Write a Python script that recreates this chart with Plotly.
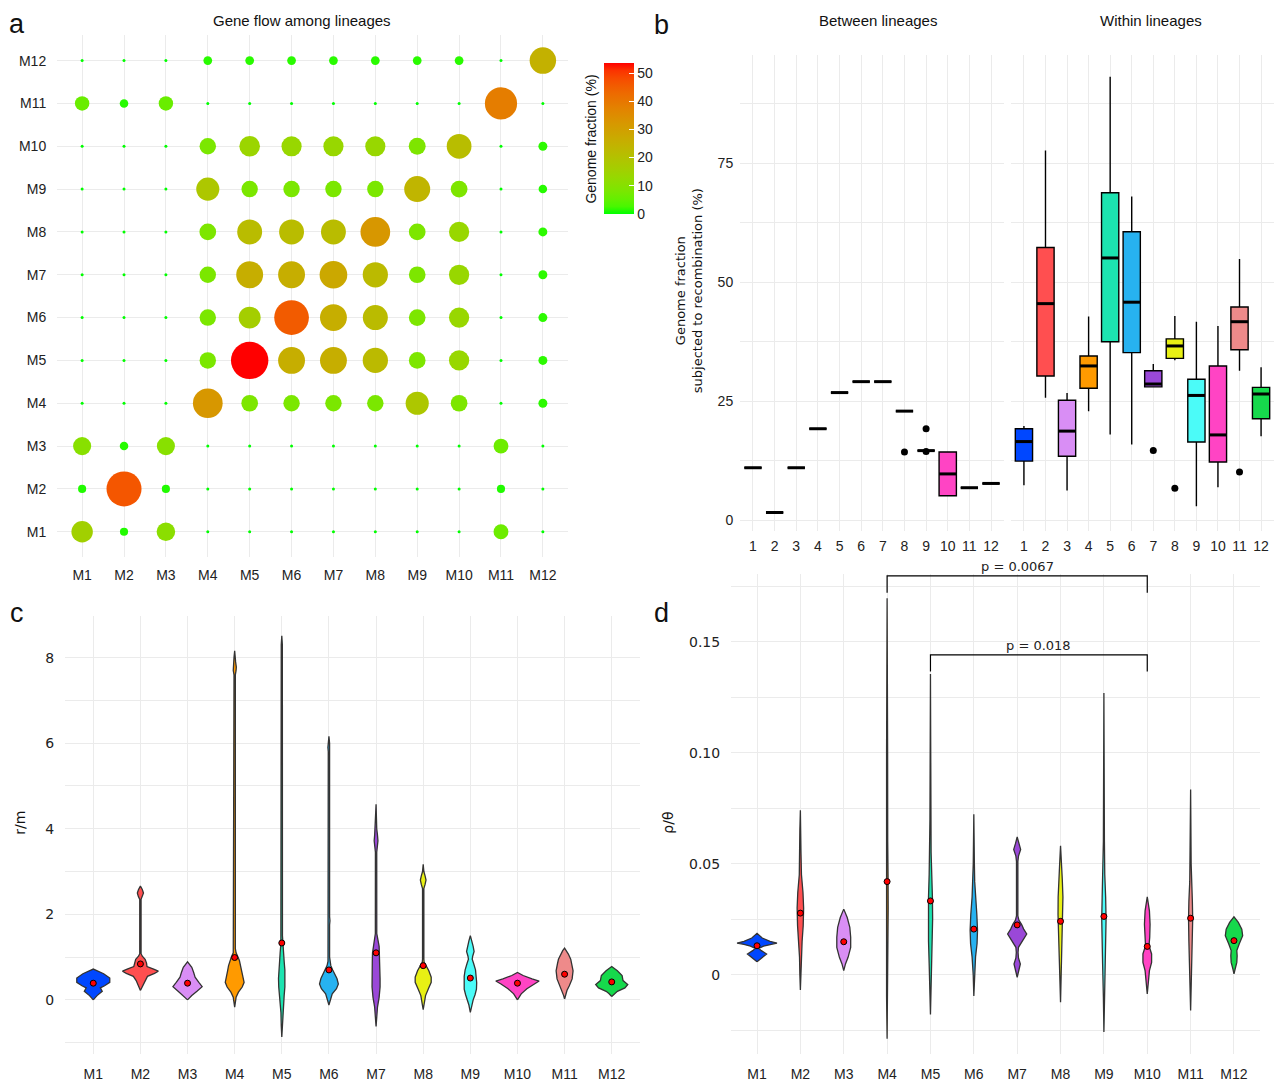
import numpy as np
import plotly.graph_objects as go

# ---------------- DATA ----------------
LINEAGES = ["M1", "M2", "M3", "M4", "M5", "M6", "M7", "M8", "M9", "M10", "M11", "M12"]
BOX_LABELS = [str(i) for i in range(1, 13)]

# panel a: gene flow matrix (rows = y lineage M1..M12, cols = x lineage M1..M12), genome fraction %
FLOW_M1 = [15.4, 1.2, 11.0, 0, 0, 0, 0, 0, 0, 0, 6.4, 0]
FLOW_M2 = [1.2, 46.5, 1.2, 0, 0, 0, 0, 0, 0, 0, 1.2, 0]
FLOW_M3 = [10.4, 1.4, 10.4, 0, 0, 0, 0, 0, 0, 0, 6.4, 0]
FLOW_M4 = [0, 0, 0, 32.4, 8.5, 8.2, 8.2, 8.2, 18.4, 8.5, 0, 1.6]
FLOW_M5 = [0, 0, 0, 8.2, 53.7, 25.9, 25.9, 22.5, 8.5, 13.5, 0, 1.6]
FLOW_M6 = [0, 0, 0, 8.2, 16.2, 45.6, 25.9, 22.0, 8.5, 13.5, 0, 1.6]
FLOW_M7 = [0, 0, 0, 8.2, 25.9, 25.9, 27.7, 22.5, 8.5, 13.5, 0, 1.6]
FLOW_M8 = [0, 0, 0, 8.5, 21.8, 21.8, 21.8, 32.4, 8.5, 13.5, 0, 1.6]
FLOW_M9 = [0, 0, 0, 18.4, 8.2, 8.2, 8.2, 8.2, 24.0, 8.7, 0, 1.4]
FLOW_M10 = [0, 0, 0, 8.2, 14.1, 13.4, 13.4, 13.4, 8.8, 21.5, 0, 1.6]
FLOW_M11 = [5.9, 1.4, 5.9, 0, 0, 0, 0, 0, 0, 0, 38.7, 0]
FLOW_M12 = [0, 0, 0, 1.5, 1.5, 1.5, 1.5, 1.5, 1.5, 1.5, 0, 25.0]
FLOW_ROWS = [FLOW_M1, FLOW_M2, FLOW_M3, FLOW_M4, FLOW_M5, FLOW_M6,
             FLOW_M7, FLOW_M8, FLOW_M9, FLOW_M10, FLOW_M11, FLOW_M12]
COLORBAR_TICKS = [0, 10, 20, 30, 40, 50]

# panel b: box statistics (% genome subjected to recombination)
BETWEEN_Q1 = [11.0, 1.6, 11.0, 19.2, 26.8, 29.1, 29.1, 22.9, 14.6, 5.1, 6.8, 7.7]
BETWEEN_MED = [11.0, 1.6, 11.0, 19.2, 26.8, 29.1, 29.1, 22.9, 14.6, 9.7, 6.8, 7.7]
BETWEEN_Q3 = [11.0, 1.6, 11.0, 19.2, 26.8, 29.1, 29.1, 22.9, 14.6, 14.3, 6.8, 7.7]
BETWEEN_LO = [11.0, 1.6, 11.0, 19.2, 26.8, 29.1, 29.1, 22.9, 14.6, 5.1, 6.8, 7.7]
BETWEEN_HI = [11.0, 1.6, 11.0, 19.2, 26.8, 29.1, 29.1, 22.9, 14.6, 14.3, 6.8, 7.7]
BETWEEN_OUT_X = [8, 9, 9]
BETWEEN_OUT_Y = [14.3, 19.2, 14.4]

WITHIN_Q1 = [12.4, 30.3, 13.4, 27.7, 37.5, 35.2, 28.0, 34.0, 16.4, 12.2, 35.8, 21.3]
WITHIN_MED = [16.5, 45.5, 18.7, 32.4, 55.1, 45.8, 28.6, 36.6, 26.2, 17.9, 41.7, 26.5]
WITHIN_Q3 = [19.2, 57.3, 25.2, 34.5, 68.8, 60.6, 31.4, 38.1, 29.6, 32.4, 44.8, 27.9]
WITHIN_LO = [7.3, 25.7, 6.2, 22.9, 18.0, 15.9, 28.0, 33.6, 2.9, 6.9, 31.4, 17.6]
WITHIN_HI = [19.8, 77.7, 26.7, 42.8, 93.2, 68.0, 32.8, 42.9, 41.7, 40.8, 54.9, 32.1]
WITHIN_OUT_X = [7, 8, 11]
WITHIN_OUT_Y = [14.6, 6.7, 10.1]

# panel c: r/m violin profiles (value, relative half width)
C_PROF_Y = [
    [0.0, 0.10, 0.20, 0.28, 0.33, 0.41, 0.51, 0.61, 0.72],
    [0.22, 0.33, 0.45, 0.55, 0.62, 0.67, 0.72, 0.78, 0.86, 0.95, 1.02, 1.08, 2.35, 2.42, 2.5, 2.58, 2.66],
    [0.0, 0.05, 0.10, 0.20, 0.31, 0.41, 0.53, 0.64, 0.76, 0.89],
    [-0.17, -0.05, 0.06, 0.18, 0.30, 0.41, 0.55, 0.68, 0.80, 0.92, 1.00, 1.10, 1.2, 7.6, 7.7, 7.78, 7.9, 8.0, 8.16],
    [-0.87, -0.6, -0.3, -0.1, 0.1, 0.3, 0.5, 0.7, 0.9, 1.1, 1.3, 1.5, 8.3, 8.51],
    [-0.12, 0.0, 0.14, 0.26, 0.37, 0.5, 0.6, 0.7, 0.8, 0.9, 1.0, 1.75, 1.85, 1.95, 5.8, 5.9, 6.0, 6.16],
    [-0.62, -0.4, -0.17, 0.06, 0.3, 0.5, 0.7, 0.9, 1.1, 1.25, 1.4, 1.55, 3.45, 3.6, 3.72, 3.85, 4.0, 4.57],
    [-0.23, -0.1, 0.1, 0.26, 0.41, 0.53, 0.68, 0.8, 0.88, 0.95, 2.6, 2.7, 2.8, 2.9, 3.0, 3.17],
    [-0.29, -0.12, 0.0, 0.12, 0.25, 0.4, 0.55, 0.7, 0.85, 0.95, 1.02, 1.13, 1.25, 1.38, 1.5],
    [0.0, 0.07, 0.14, 0.26, 0.37, 0.44, 0.49, 0.57, 0.64],
    [0.02, 0.1, 0.22, 0.33, 0.49, 0.68, 0.85, 0.95, 1.07, 1.15, 1.21],
    [0.08, 0.15, 0.2, 0.28, 0.36, 0.45, 0.57, 0.68, 0.78],
]
C_PROF_W = [
    [0, 0.08, 0.19, 0.15, 0.24, 0.35, 0.35, 0.22, 0],
    [0, 0.05, 0.09, 0.15, 0.30, 0.38, 0.28, 0.14, 0.13, 0.10, 0.04, 0.014, 0.014, 0.045, 0.065, 0.04, 0],
    [0, 0.04, 0.09, 0.20, 0.31, 0.24, 0.16, 0.13, 0.09, 0],
    [0, 0.015, 0.03, 0.08, 0.16, 0.20, 0.17, 0.15, 0.13, 0.10, 0.07, 0.03, 0.014, 0.014, 0.03, 0.035, 0.02, 0.014, 0],
    [0, 0.012, 0.018, 0.03, 0.05, 0.065, 0.07, 0.065, 0.05, 0.035, 0.02, 0.014, 0.012, 0],
    [0, 0.025, 0.07, 0.16, 0.20, 0.17, 0.12, 0.08, 0.04, 0.02, 0.014, 0.014, 0.022, 0.014, 0.014, 0.022, 0.014, 0],
    [0, 0.015, 0.03, 0.065, 0.085, 0.085, 0.08, 0.08, 0.075, 0.065, 0.04, 0.015, 0.014, 0.035, 0.04, 0.03, 0.014, 0],
    [0, 0.02, 0.05, 0.11, 0.17, 0.17, 0.12, 0.06, 0.02, 0.014, 0.014, 0.04, 0.06, 0.04, 0.014, 0],
    [0, 0.03, 0.06, 0.10, 0.13, 0.135, 0.13, 0.11, 0.07, 0.04, 0.05, 0.08, 0.06, 0.03, 0],
    [0, 0.04, 0.08, 0.2, 0.35, 0.46, 0.31, 0.12, 0],
    [0, 0.02, 0.05, 0.10, 0.16, 0.18, 0.15, 0.13, 0.08, 0.04, 0],
    [0, 0.06, 0.12, 0.28, 0.34, 0.24, 0.22, 0.12, 0],
]
C_MEANS = [0.39, 0.84, 0.39, 0.99, 1.33, 0.70, 1.10, 0.80, 0.51, 0.39, 0.60, 0.42]
C_TICKS = [0, 2, 4, 6, 8]
C_MINOR = [-1, 1, 3, 5, 7]

# panel d: rho/theta violin profiles
D_PROF_Y = [
    [0.0058, 0.0075, 0.0093, 0.0108, 0.0118, 0.0128, 0.0136, 0.0142, 0.0150, 0.0165, 0.0186],
    [-0.0069, 0.0, 0.008, 0.015, 0.022, 0.03, 0.037, 0.045, 0.055, 0.065, 0.074],
    [0.0018, 0.0048, 0.0078, 0.0123, 0.0168, 0.0213, 0.0257, 0.0295],
    [-0.0289, -0.01, 0.01, 0.03, 0.045, 0.06, 0.1, 0.1695],
    [-0.018, -0.005, 0.005, 0.015, 0.025, 0.035, 0.045, 0.055, 0.07, 0.1354],
    [-0.0096, 0.0, 0.008, 0.014, 0.02, 0.027, 0.035, 0.042, 0.05, 0.0722],
    [-0.0012, 0.002, 0.0048, 0.0075, 0.01, 0.0123, 0.0153, 0.0183, 0.0205, 0.0227, 0.0245, 0.0265,
     0.051, 0.0534, 0.0564, 0.059, 0.062],
    [-0.0124, -0.003, 0.005, 0.012, 0.02, 0.027, 0.035, 0.043, 0.05, 0.058],
    [-0.0259, -0.01, 0.005, 0.015, 0.025, 0.035, 0.045, 0.06, 0.1269],
    [-0.0087, -0.0027, 0.0018, 0.0055, 0.0093, 0.013, 0.0168, 0.0227, 0.0287, 0.035],
    [-0.0162, -0.005, 0.005, 0.015, 0.025, 0.033, 0.042, 0.05, 0.0834],
    [0.0003, 0.0025, 0.0055, 0.0085, 0.0108, 0.0138, 0.0175, 0.0205, 0.0235, 0.026],
]
D_PROF_W = [
    [0, 0.1, 0.22, 0.1, 0.04, 0.15, 0.30, 0.46, 0.3, 0.12, 0],
    [0, 0.012, 0.02, 0.04, 0.065, 0.075, 0.06, 0.025, 0.014, 0.012, 0],
    [0, 0.04, 0.1, 0.16, 0.16, 0.14, 0.08, 0],
    [0, 0.012, 0.02, 0.025, 0.022, 0.014, 0.012, 0],
    [0, 0.015, 0.03, 0.045, 0.05, 0.045, 0.03, 0.015, 0.012, 0],
    [0, 0.014, 0.04, 0.075, 0.085, 0.07, 0.04, 0.02, 0.013, 0],
    [0, 0.04, 0.073, 0.03, 0.02, 0.03, 0.12, 0.22, 0.15, 0.1, 0.04, 0.016, 0.016, 0.03, 0.08, 0.04, 0],
    [0, 0.012, 0.018, 0.03, 0.05, 0.058, 0.055, 0.04, 0.02, 0],
    [0, 0.012, 0.03, 0.045, 0.05, 0.04, 0.02, 0.012, 0],
    [0, 0.024, 0.05, 0.1, 0.1, 0.04, 0.057, 0.065, 0.05, 0],
    [0, 0.012, 0.025, 0.04, 0.048, 0.04, 0.02, 0.012, 0],
    [0, 0.024, 0.065, 0.073, 0.065, 0.12, 0.2, 0.18, 0.1, 0],
]
D_MEANS = [0.013, 0.0277, 0.0148, 0.0419, 0.0332, 0.0205, 0.0224, 0.024, 0.0262, 0.0127, 0.0254, 0.0153]
D_TICKS = [0, 0.05, 0.10, 0.15]
D_TICKTEXT = ["0", "0.05", "0.10", "0.15"]
D_MINOR = [-0.025, 0.025, 0.075, 0.125, 0.175]
P_PAIRS = [(4, 10), (5, 10)]
P_TOP = [0.1796, 0.144]
P_LEG = [0.172, 0.1366]
P_TEXT = ["p = 0.0067", "p = 0.018"]

# ---------------- STYLE ----------------
COLORS = ["#0047FF", "#FF4F50", "#D98EF5", "#FF9A00", "#1CE3B0", "#27B2F0",
          "#9A48D8", "#E8F014", "#4BFBF8", "#FF44C4", "#EE8A8A", "#16D94C"]
GRID = "#EBEBEB"
SANS = "Liberation Sans"
DJ = "DejaVu Sans"
PAGE_OFF = 0          # body margin removed by post_script below
W, H = 1274, 1082


def px_x(p):
    return (p - PAGE_OFF) / W


def px_y(p):
    return 1 - (p - PAGE_OFF) / H


# Lab-interpolated green -> red gradient (like ggplot's scale_colour_gradient)
def _lin(c):
    c = np.asarray(c) / 255.0
    return np.where(c <= 0.04045, c / 12.92, ((c + 0.055) / 1.055) ** 2.4)


def _delin(c):
    c = np.clip(c, 0, 1)
    return np.where(c <= 0.0031308, 12.92 * c, 1.055 * c ** (1 / 2.4) - 0.055)


_M = np.array([[0.4124, 0.3576, 0.1805], [0.2126, 0.7152, 0.0722], [0.0193, 0.1192, 0.9505]])
_WHITE = np.array([0.95047, 1.0, 1.08883])


def to_lab(rgb):
    xyz = _M @ _lin(rgb) / _WHITE
    f = np.where(xyz > 0.008856, np.cbrt(xyz), 7.787 * xyz + 16 / 116)
    return np.array([116 * f[1] - 16, 500 * (f[0] - f[1]), 200 * (f[1] - f[2])])


def from_lab(lab):
    fy = (lab[0] + 16) / 116
    fx = fy + lab[1] / 500
    fz = fy - lab[2] / 200
    f = np.array([fx, fy, fz])
    xyz = np.where(f ** 3 > 0.008856, f ** 3, (f - 16 / 116) / 7.787) * _WHITE
    rgb = _delin(np.linalg.solve(_M, xyz))
    return "rgb(%d,%d,%d)" % tuple(np.round(rgb * 255).astype(int))


lab_lo, lab_hi = to_lab([0, 255, 0]), to_lab([255, 0, 0])
COLORSCALE = [[t, from_lab(lab_lo + (lab_hi - lab_lo) * t)] for t in np.linspace(0, 1, 21)]

fig = go.Figure()

# ---------------- PANEL a ----------------
vmax = max(max(r) for r in FLOW_ROWS)
bx, by, bv = [], [], []
for i, row in enumerate(FLOW_ROWS):
    for j, v in enumerate(row):
        bx.append(j + 1)
        by.append(i + 1)
        bv.append(v)
bv = np.array(bv)
sizes = 3 + 34.4 * np.sqrt(bv / vmax)
fig.add_trace(go.Scatter(
    x=bx, y=by, mode="markers", xaxis="x", yaxis="y",
    marker=dict(size=sizes, color=bv, colorscale=COLORSCALE, cmin=0, cmax=vmax,
                line=dict(width=0), opacity=1,
                colorbar=dict(x=px_x(604), xanchor="left", xpad=0, y=px_y(63), yanchor="top", ypad=0,
                              len=151, lenmode="pixels", thickness=30, thicknessmode="pixels",
                              outlinewidth=0, ticks="inside", ticklen=5, tickcolor="white", tickwidth=1,
                              tickvals=COLORBAR_TICKS, tickfont=dict(family=SANS, size=14, color="#222"))),
    hoverinfo="skip"))


# ---------------- PANEL b ----------------
def add_boxes(q1, med, q3, lo, hi, xa, ya):
    for k in range(12):
        fig.add_trace(go.Box(
            x=[k + 1], q1=[q1[k]], median=[med[k]], q3=[q3[k]], lowerfence=[lo[k]], upperfence=[hi[k]],
            width=0.8, whiskerwidth=0, fillcolor=COLORS[k], line=dict(color="black", width=1.4),
            boxpoints=False, xaxis=xa, yaxis=ya, hoverinfo="skip"))
    mx, my = [], []
    for k in range(12):
        mx += [k + 1 - 0.4, k + 1 + 0.4, None]
        my += [med[k], med[k], None]
    fig.add_trace(go.Scatter(x=mx, y=my, mode="lines", line=dict(color="black", width=3),
                             xaxis=xa, yaxis=ya, hoverinfo="skip"))


add_boxes(BETWEEN_Q1, BETWEEN_MED, BETWEEN_Q3, BETWEEN_LO, BETWEEN_HI, "x2", "y2")
fig.add_trace(go.Scatter(x=BETWEEN_OUT_X, y=BETWEEN_OUT_Y, mode="markers", xaxis="x2", yaxis="y2",
                         marker=dict(color="black", size=7), hoverinfo="skip"))
add_boxes(WITHIN_Q1, WITHIN_MED, WITHIN_Q3, WITHIN_LO, WITHIN_HI, "x3", "y3")
fig.add_trace(go.Scatter(x=WITHIN_OUT_X, y=WITHIN_OUT_Y, mode="markers", xaxis="x3", yaxis="y3",
                         marker=dict(color="black", size=7), hoverinfo="skip"))


# ---------------- PANELS c, d (violins) ----------------
def add_violins(prof_y, prof_w, means, xa, ya):
    for k in range(12):
        ys = list(prof_y[k])
        ws = list(prof_w[k])
        px = [k + 1 + w for w in ws] + [k + 1 - w for w in ws[::-1]]
        py = ys + ys[::-1]
        fig.add_trace(go.Scatter(x=px, y=py, mode="lines", fill="toself", fillcolor=COLORS[k],
                                 line=dict(color="#333333", width=1.3), xaxis=xa, yaxis=ya,
                                 hoverinfo="skip"))
    fig.add_trace(go.Scatter(x=list(range(1, 13)), y=means, mode="markers", xaxis=xa, yaxis=ya,
                             marker=dict(color="red", size=6, line=dict(color="black", width=1)),
                             hoverinfo="skip"))


add_violins(C_PROF_Y, C_PROF_W, C_MEANS, "x4", "y4")
add_violins(D_PROF_Y, D_PROF_W, D_MEANS, "x5", "y5")

for (a, b), top, leg, txt in zip(P_PAIRS, P_TOP, P_LEG, P_TEXT):
    fig.add_trace(go.Scatter(x=[a, a, b, b], y=[leg, top, top, leg], mode="lines",
                             line=dict(color="black", width=1.2), xaxis="x5", yaxis="y5",
                             hoverinfo="skip"))
    fig.add_annotation(x=(a + b) / 2, y=top, xref="x5", yref="y5", text=txt, showarrow=False,
                       yanchor="bottom", font=dict(family=DJ, size=13, color="#222"))

# ---------------- AXES ----------------
common = dict(showline=False, zeroline=False, gridcolor=GRID, gridwidth=1.1, showgrid=True)
tick_a = dict(family=SANS, size=14, color="#222")
xcat = dict(tickmode="array", tickvals=list(range(1, 13)), range=[0.4, 12.6])

fig.update_layout(
    width=W, height=H, margin=dict(l=0, r=0, t=0, b=0),
    paper_bgcolor="white", plot_bgcolor="white", showlegend=False, boxmode="overlay",
    xaxis=dict(domain=[px_x(57), px_x(568)], anchor="y", ticktext=LINEAGES, ticks="outside", ticklen=5,
               tickcolor="rgba(0,0,0,0)", tickfont=tick_a, **xcat, **common),
    yaxis=dict(domain=[px_y(559), px_y(35)], anchor="x", tickmode="array", tickvals=list(range(1, 13)),
               ticktext=LINEAGES, range=[0.4, 12.6], ticks="outside", ticklen=7,
               tickcolor="rgba(0,0,0,0)", tickfont=tick_a, **common),
    xaxis2=dict(domain=[px_x(740), px_x(1004)], anchor="y2", ticktext=BOX_LABELS, ticks="outside",
                ticklen=3, tickcolor="rgba(0,0,0,0)", tickfont=tick_a, **xcat, **common),
    yaxis2=dict(domain=[px_y(532), px_y(55)], anchor="x2", range=[-2.2, 97.8], tickmode="array",
                tickvals=[0, 25, 50, 75], ticks="outside", ticklen=3, tickcolor="rgba(0,0,0,0)",
                tickfont=tick_a,
                minor=dict(tickvals=[12.5, 37.5, 62.5, 87.5], showgrid=True, gridcolor=GRID, gridwidth=0.6),
                **common),
    xaxis3=dict(domain=[px_x(1011), 1.0], anchor="y3", ticktext=BOX_LABELS, ticks="outside",
                ticklen=3, tickcolor="rgba(0,0,0,0)", tickfont=tick_a, ticklabeloverflow="allow",
                **xcat, **common),
    yaxis3=dict(domain=[px_y(532), px_y(55)], anchor="x3", range=[-2.2, 97.8], tickmode="array",
                tickvals=[0, 25, 50, 75], showticklabels=False,
                minor=dict(tickvals=[12.5, 37.5, 62.5, 87.5], showgrid=True, gridcolor=GRID, gridwidth=0.6),
                **common),
    xaxis4=dict(domain=[px_x(65), px_x(640)], anchor="y4", ticktext=LINEAGES, ticks="outside",
                ticklen=7, tickcolor="rgba(0,0,0,0)", tickfont=tick_a, **xcat, **common),
    yaxis4=dict(domain=[px_y(1057), px_y(618)], anchor="x4", range=[-1.267, 8.967], tickmode="array",
                tickvals=C_TICKS, ticks="outside", ticklen=7, tickcolor="rgba(0,0,0,0)",
                tickfont=dict(family=DJ, size=14, color="#222"),
                minor=dict(tickvals=C_MINOR, showgrid=True, gridcolor=GRID, gridwidth=0.6),
                **common),
    xaxis5=dict(domain=[px_x(731), px_x(1260)], anchor="y5", ticktext=LINEAGES, ticks="outside",
                ticklen=7, tickcolor="rgba(0,0,0,0)", tickfont=tick_a, **xcat, **common),
    yaxis5=dict(domain=[px_y(1057), px_y(576)], anchor="x5", range=[-0.0358, 0.1803], tickmode="array",
                tickvals=D_TICKS, ticktext=D_TICKTEXT, ticks="outside", ticklen=7,
                tickcolor="rgba(0,0,0,0)", tickfont=dict(family=DJ, size=14, color="#222"),
                minor=dict(tickvals=D_MINOR, showgrid=True, gridcolor=GRID, gridwidth=0.6),
                **common),
)


# ---------------- TEXT ----------------
def note(x, y, text, size=14, family=SANS, angle=0, xanchor="center", yanchor="middle"):
    fig.add_annotation(x=px_x(x), y=px_y(y), xref="paper", yref="paper", text=text, showarrow=False,
                       textangle=angle, xanchor=xanchor, yanchor=yanchor,
                       font=dict(family=family, size=size, color="#111"))


note(302, 21, "Gene flow among lineages", size=15)
note(878, 21, "Between lineages", size=15)
note(1151, 21, "Within lineages", size=15)
note(591, 140, "Genome fraction (%)", angle=-90)
note(689, 292, "Genome fraction<br>subjected to recombination (%)", size=13, family=DJ, angle=-90)
note(20, 825, "r/m", size=14, family=DJ, angle=-90)
note(668, 825, "ρ/θ", size=14, family=DJ, angle=-90)
note(17, 24, "a", size=27)
note(661, 25, "b", size=27)
note(17, 615, "c", size=27)
note(661, 615, "d", size=27)

fig.write_html("out.html",
               config={"displayModeBar": False},
               post_script="document.body.style.margin='0px';"
                           "document.documentElement.style.overflow='hidden';"
                           "document.body.style.overflow='hidden';")
